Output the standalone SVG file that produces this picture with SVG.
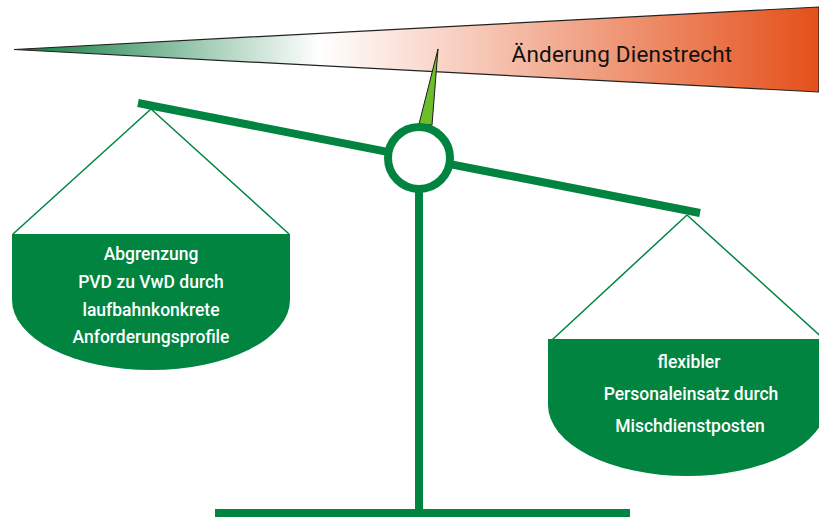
<svg xmlns="http://www.w3.org/2000/svg" width="819" height="517" viewBox="0 0 819 517">
  <style>
    .green { fill: #00843f; }
    .string { stroke: #00843f; stroke-width: 1.5; fill: none; }
    .pantext { font-family: Roboto, "Liberation Sans", Arial, sans-serif; font-weight: 500; font-size: 17.5px; fill: #ffffff; text-anchor: middle; }
    .title { font-family: Roboto, "Liberation Sans", Arial, sans-serif; font-weight: 400; font-size: 22.5px; letter-spacing: 0.2px; fill: #111111; text-anchor: middle; }
  </style>
  <defs>
    <linearGradient id="wedgeGrad" gradientUnits="userSpaceOnUse" x1="14" y1="0" x2="819" y2="0">
      <stop offset="0" stop-color="#0a7a3c"/>
      <stop offset="0.38" stop-color="#ffffff"/>
      <stop offset="1" stop-color="#e4501a"/>
    </linearGradient>
  </defs>
  <rect width="819" height="517" fill="#ffffff"/>

  <g id="wedge">
    <polygon points="14,49.5 819,7 819,92" fill="url(#wedgeGrad)" stroke="#222222" stroke-width="1.2" stroke-linejoin="miter"/>
    <text class="title" x="622" y="62">Änderung Dienstrecht</text>
  </g>

  <g id="needle">
    <polygon points="438,49 432,125 419,124" fill="#6cbf2a" stroke="#1a1a1a" stroke-width="1"/>
  </g>

  <g id="connectors">
    <line class="string" x1="151" y1="109" x2="13" y2="234"/>
    <line class="string" x1="151" y1="109" x2="289" y2="234"/>
    <line class="string" x1="687" y1="215" x2="552" y2="340"/>
    <line class="string" x1="687" y1="215" x2="826" y2="341"/>
  </g>

  <g id="stand">
    <rect class="green" x="415" y="188" width="8" height="329"/>
    <rect class="green" x="215" y="509" width="415" height="10"/>
  </g>

  <g id="beam">
    <line x1="138" y1="103" x2="700" y2="213" stroke="#00843f" stroke-width="8"/>
  </g>

  <g id="pivot">
    <circle cx="419" cy="158" r="31" fill="#ffffff" stroke="#00843f" stroke-width="8"/>
  </g>

  <g id="pan-left">
    <path class="green" d="M12,234 H290 V300 A139,70 0 0 1 12,300 Z"/>
    <text class="pantext" x="151" y="260">Abgrenzung</text>
    <text class="pantext" x="151" y="288">PVD zu VwD durch</text>
    <text class="pantext" x="151" y="316">laufbahnkonkrete</text>
    <text class="pantext" x="151" y="343">Anforderungsprofile</text>
  </g>

  <g id="pan-right">
    <path class="green" d="M548,339 H826 V405 A139,71 0 0 1 548,405 Z"/>
    <text class="pantext" x="689" y="368">flexibler</text>
    <text class="pantext" x="691" y="400">Personaleinsatz durch</text>
    <text class="pantext" x="690" y="432">Mischdienstposten</text>
  </g>
</svg>
